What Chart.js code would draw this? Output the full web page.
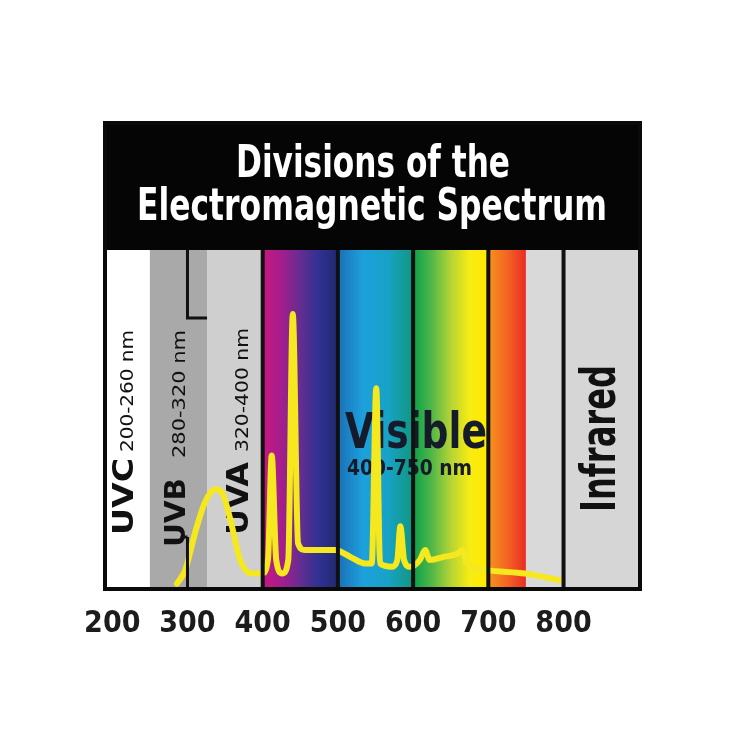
<!DOCTYPE html>
<html>
<head>
<meta charset="utf-8">
<script src="https://cdn.jsdelivr.net/npm/chart.js@4"></script>
<style>
  html, body { margin: 0; padding: 0; background: #fff; }
</style>
</head>
<body>
<canvas id="chart" width="750" height="750"></canvas>
<script>
// wavelength ticks (nm)
const tickValues = [200, 300, 400, 500, 600, 700, 800];

// spectrum regions, in nm
const bandStarts = [193, 250, 326, 400, 500, 600, 700, 750, 800];
const bandEnds   = [250, 326, 400, 500, 600, 700, 750, 800, 899];
const dividerValues = [400, 500, 600, 700, 800];
const uvbMarker = 300;

// lamp emission curve
const lampNm = [286, 297, 310, 323, 337, 346, 357, 370, 386, 399,
                407, 412, 418, 426, 434, 440, 447, 456, 476, 496,
                516, 536, 545, 551, 556, 572, 579, 583, 588, 596,
                609, 616, 622, 642, 660, 665, 672, 698, 749, 795];
const lampLevel = [1, 5, 16, 25, 29, 28, 20, 8, 4, 4,
                   8, 39, 8, 4, 8, 81, 13, 11, 11, 11,
                   9, 7, 7, 59, 7, 6, 8, 18, 8, 6,
                   8, 11, 8, 9, 10, 11, 7, 5, 4, 2];

const titleLines = ['Divisions of the', 'Electromagnetic Spectrum'];

const NARROW = '"Liberation Sans Narrow", "DejaVu Sans Condensed", "Liberation Sans", sans-serif';

const bandFills = [
  '#ffffff',
  '#a9a9a9',
  '#cfcfcf',
  ['#c8177f', '#a41e8d', '#652d91', '#2e3192', '#23296f'],
  ['#1b6fb6', '#1da0dc', '#18a2c6', '#11977f'],
  ['#0ba04b', '#52b748', '#b5d335', '#f7ec13', '#ffe900'],
  ['#f7941d', '#f26522', '#ea2c24'],
  '#d9d9d9',
  '#d6d6d6'
];

function fitText(ctx, text, font, x, y, width) {
  ctx.font = font;
  const w = ctx.measureText(text).width;
  ctx.save();
  ctx.translate(x, y);
  ctx.scale(width / w, 1);
  ctx.fillText(text, 0, 0);
  ctx.restore();
}

// vertical labels reading bottom to top
function sideLabel(ctx, parts, baseX, bottomY) {
  ctx.save();
  ctx.translate(baseX, bottomY);
  ctx.rotate(-Math.PI / 2);
  parts.forEach(p => fitText(ctx, p.text, p.font, p.at, 0, p.len));
  ctx.restore();
}

const spectrumPlugin = {
  id: 'spectrum',
  beforeDraw(chart) {
    const { ctx, chartArea: a, scales: { x } } = chart;
    const headerTop = a.top - 127;
    ctx.save();
    ctx.fillStyle = '#050505';
    ctx.fillRect(a.left - 4, headerTop, a.right - a.left + 8, a.top - headerTop);

    ctx.textAlign = 'left';
    ctx.textBaseline = 'alphabetic';
    ctx.fillStyle = '#ffffff';
    fitText(ctx, titleLines[0], 'bold 44px ' + NARROW, 236, headerTop + 54, 274);
    fitText(ctx, titleLines[1], 'bold 44px ' + NARROW, 137, headerTop + 97, 470);

    bandStarts.forEach((s, i) => {
      const x0 = x.getPixelForValue(s), x1 = x.getPixelForValue(bandEnds[i]);
      const fill = bandFills[i];
      if (Array.isArray(fill)) {
        const g = ctx.createLinearGradient(x0, 0, x1, 0);
        fill.forEach((c, k) => g.addColorStop(k / (fill.length - 1), c));
        ctx.fillStyle = g;
      } else {
        ctx.fillStyle = fill;
      }
      ctx.fillRect(x0, a.top, x1 - x0, a.bottom - a.top);
    });

    ctx.fillStyle = '#111';
    sideLabel(ctx, [
      { text: 'UVC', font: 'bold 28px ' + NARROW, at: 0, len: 77 },
      { text: '200-260 nm', font: '18px ' + NARROW, at: 83, len: 122 }
    ], 133, 535);
    sideLabel(ctx, [
      { text: 'UVB', font: 'bold 28px ' + NARROW, at: 0, len: 69 },
      { text: '280-320 nm', font: '18px ' + NARROW, at: 89, len: 128 }
    ], 185, 547);
    sideLabel(ctx, [
      { text: 'UVA', font: 'bold 30px ' + NARROW, at: 0, len: 73 },
      { text: '320-400 nm', font: '18px ' + NARROW, at: 83, len: 124 }
    ], 248, 535);
    sideLabel(ctx, [
      { text: 'Infrared', font: 'bold 48px ' + NARROW, at: 0, len: 147 }
    ], 615, 512);

    ctx.fillStyle = '#161b2c';
    fitText(ctx, 'Visible', 'bold 50px ' + NARROW, 345, 448, 142);
    fitText(ctx, '400-750 nm', 'bold 22px ' + NARROW, 347, 475, 125);
    ctx.restore();
  },
  afterDatasetsDraw(chart) {
    const { ctx, chartArea: a, scales: { x } } = chart;
    const headerTop = a.top - 127;
    ctx.save();
    ctx.fillStyle = '#111';
    dividerValues.forEach(v => {
      const px = x.getPixelForValue(v);
      ctx.fillRect(px - 2, a.top, 4, a.bottom - a.top);
    });

    // UVB bracket line
    const ux = x.getPixelForValue(uvbMarker);
    const uaEdge = x.getPixelForValue(bandEnds[1]);
    ctx.fillRect(ux - 1.5, a.top, 3, 318 - a.top);
    ctx.fillRect(ux - 1.5, 316.5, uaEdge - ux + 1.5, 3);
    ctx.fillRect(ux - 1.5, 537, 3, a.bottom - 537);
    ctx.fillRect(ux - 7, 535.5, 7, 3);

    ctx.strokeStyle = '#0a0a0a';
    ctx.lineWidth = 4;
    ctx.strokeRect(a.left - 2, headerTop, a.right - a.left + 4, a.bottom + 2 - headerTop);
    ctx.restore();
  }
};

new Chart(document.getElementById('chart'), {
  type: 'line',
  data: {
    datasets: [{
      data: lampNm.map((nm, i) => ({ x: nm, y: lampLevel[i] })),
      borderColor: '#f5e81f',
      borderWidth: 6,
      borderCapStyle: 'round',
      borderJoinStyle: 'round',
      pointRadius: 0,
      cubicInterpolationMode: 'monotone',
      fill: false
    }]
  },
  options: {
    responsive: false,
    animation: false,
    layout: { padding: { top: 250, left: 107, right: 112, bottom: 89 } },
    plugins: {
      legend: { display: false },
      tooltip: { enabled: false },
      title: { display: false }
    },
    scales: {
      x: {
        type: 'linear',
        min: 193,
        max: 899,
        grid: { display: false, drawTicks: false },
        border: { display: false },
        afterBuildTicks: scale => { scale.ticks = tickValues.map(v => ({ value: v })); },
        ticks: {
          padding: 19,
          color: '#1c1c1c',
          font: { family: NARROW, size: 30, weight: 'bold' }
        }
      },
      y: { display: false, min: 0, max: 100 }
    }
  },
  plugins: [spectrumPlugin]
});
</script>
</body>
</html>
